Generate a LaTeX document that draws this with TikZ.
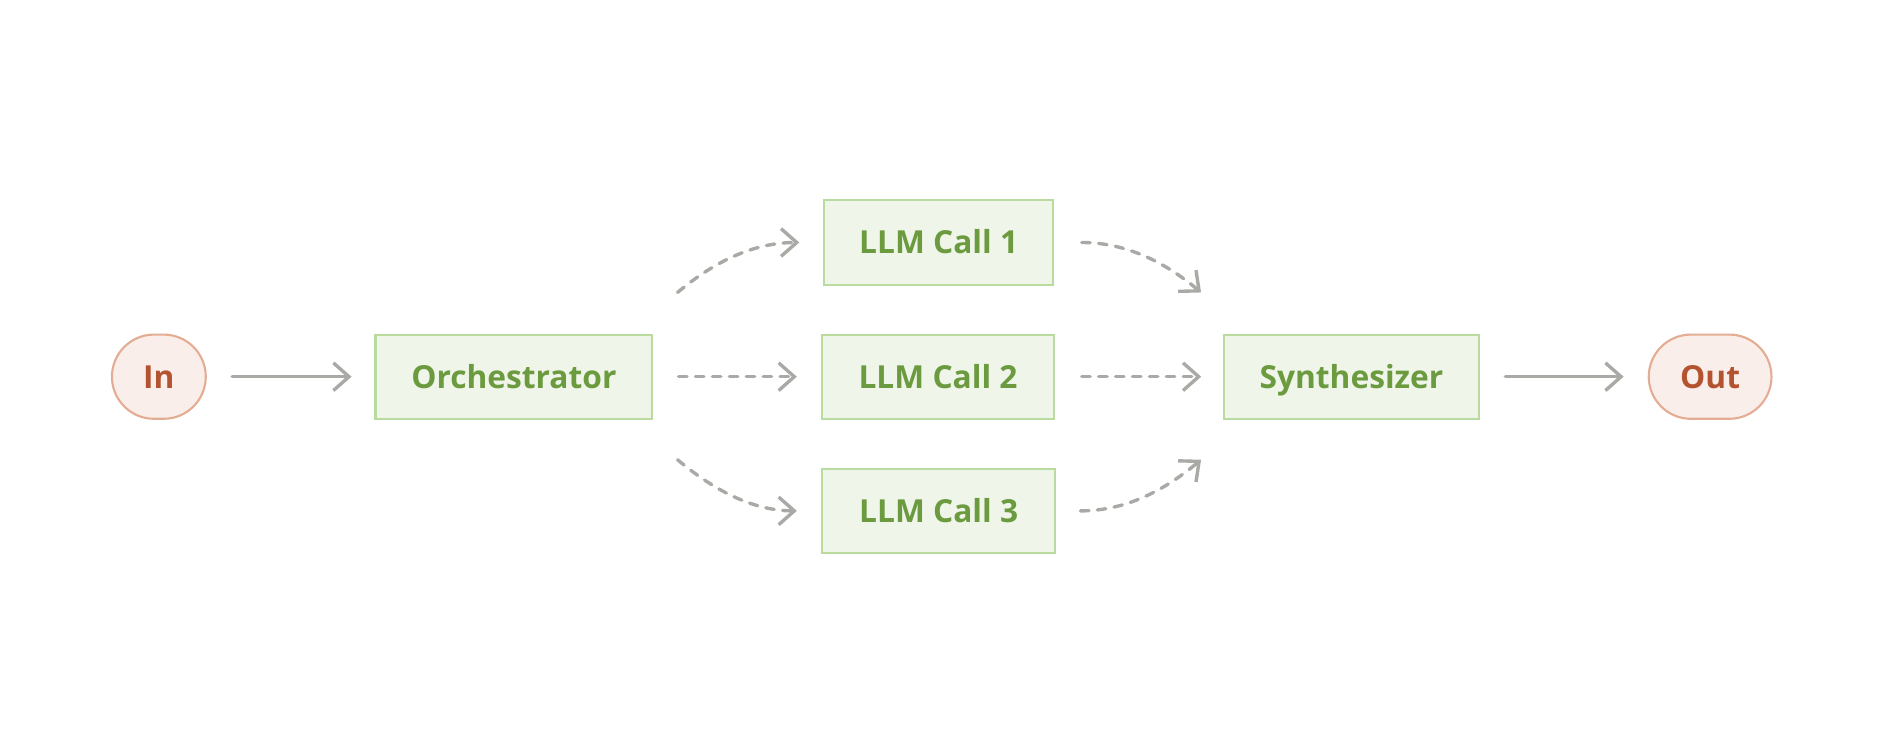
\documentclass[tikz,border=0pt]{standalone}
\usepackage{fontspec}
\setmainfont{Open Sans}
\usetikzlibrary{arrows.meta}
\definecolor{boxfill}{HTML}{EFF5E9}
\definecolor{boxline}{HTML}{B9DBA0}
\definecolor{boxtext}{HTML}{6B9A3F}
\definecolor{pillfill}{HTML}{F9EEE9}
\definecolor{pillline}{HTML}{E4AC93}
\definecolor{pilltext}{HTML}{B4532F}
\definecolor{arrowgray}{HTML}{A9A9A5}
\tikzset{
    stepbox/.style={draw=boxline, fill=boxfill, text=boxtext, line width=1pt,
        minimum height=1.4cm, text height=10.7pt, text depth=0pt,
        font=\fontsize{15}{18}\selectfont\bfseries},
    pill/.style={draw=pillline, fill=pillfill, text=pilltext, line width=1pt,
        rounded corners=0.7cm, minimum height=1.4cm, text height=10.7pt, text depth=0pt,
        font=\fontsize{15}{18}\selectfont\bfseries},
    flow/.style={draw=arrowgray, line width=1.6pt, line cap=round,
        -{Straight Barb[length=0.26cm, width=0.46cm, line width=1.6pt]}},
    fan/.style={flow, dash pattern=on 4pt off 4pt}
}
\begin{document}
\begin{tikzpicture}[x=0.02cm, y=-0.02cm]
    \useasboundingbox (0, 0) rectangle (1568, 627);
    \node[pill, minimum width=1.56cm] (in) at (132, 313) {In};
    \node[stepbox, minimum width=4.6cm] (orch) at (427, 313) {Orchestrator};
    \node[stepbox, minimum width=3.8cm] (call1) at (780, 201.5) {LLM Call 1};
    \node[stepbox, minimum width=3.86cm] (call2) at (779.5, 313) {LLM Call 2};
    \node[stepbox, minimum width=3.88cm] (call3) at (780, 424.5) {LLM Call 3};
    \node[stepbox, minimum width=4.24cm] (synth) at (1123, 313) {Synthesizer};
    \node[pill, minimum width=2.04cm] (out) at (1421, 313) {Out};

    % free ends of the curved connectors
    \coordinate (up1) at (563, 243);
    \coordinate (lo1) at (563, 382);
    \coordinate (up2) at (998, 243);
    \coordinate (lo2) at (998, 382);

    \draw[flow, shorten <=0.42cm, shorten >=0.38cm] (in) -- (orch);
    \draw[fan, shorten <=0.42cm, shorten >=0.4cm] (orch) -- (call2);
    \draw[fan, shorten <=0.44cm, shorten >=0.36cm] (call2) -- (synth);
    \draw[flow, shorten <=0.42cm, shorten >=0.4cm] (synth) -- (out);

    \draw[fan, shorten >=0.4cm] (up1) to[out=40, in=180] (call1.west);
    \draw[fan, shorten >=0.4cm] (lo1) to[out=-40, in=180] (call3.west);
    \draw[fan, shorten <=0.46cm] (call1.east) to[out=0, in=140] (up2);
    \draw[fan, shorten <=0.4cm] (call3.east) to[out=0, in=-140] (lo2);
\end{tikzpicture}
\end{document}
